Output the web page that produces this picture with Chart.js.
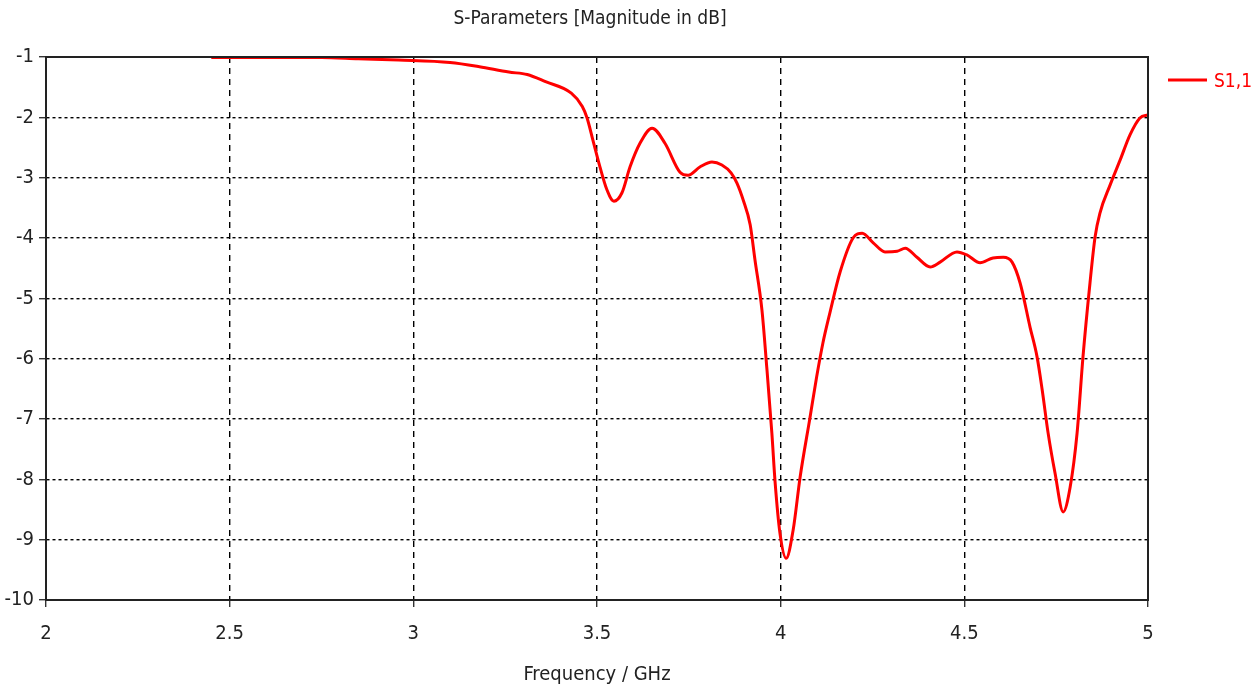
<!DOCTYPE html>
<html>
<head>
<meta charset="utf-8">
<script src="https://cdn.jsdelivr.net/npm/chart.js@4/dist/chart.umd.min.js"></script>
<style>
  html, body { margin: 0; padding: 0; background: #fff; }
  #wrap { width: 1260px; height: 693px; position: relative; }
</style>
</head>
<body>
<div id="wrap"><canvas id="sparChart"></canvas></div>
<script>
// S11 curve
const freqGHz = [2.45, 2.55, 2.65, 2.75, 2.85, 2.96, 3.10, 3.18, 3.26, 3.31, 3.36, 3.43, 3.46, 3.473,
  3.489, 3.508, 3.527, 3.546, 3.568, 3.59, 3.617, 3.65, 3.685, 3.726, 3.748, 3.781, 3.813, 3.84,
  3.865, 3.881, 3.898, 3.917, 3.93, 3.949, 3.962, 3.976, 3.985, 3.998, 4.015, 4.034, 4.053, 4.08,
  4.098, 4.115, 4.134, 4.162, 4.197, 4.222, 4.252, 4.284, 4.317, 4.339, 4.371, 4.407, 4.434, 4.48,
  4.507, 4.543, 4.578, 4.606, 4.63, 4.652, 4.679, 4.698, 4.712, 4.728, 4.747, 4.769, 4.788, 4.807,
  4.823, 4.842, 4.856, 4.869, 4.897, 4.924, 4.951, 4.978, 5.0];
const s11dB = [-1.01, -1.01, -1.01, -1.01, -1.03, -1.05, -1.09, -1.16, -1.25, -1.29, -1.41, -1.60, -1.82, -2.01,
  -2.38, -2.82, -3.20, -3.39, -3.25, -2.82, -2.43, -2.18, -2.43, -2.91, -2.96, -2.82, -2.74, -2.79,
  -2.92, -3.09, -3.37, -3.78, -4.36, -5.19, -6.13, -7.23, -8.06, -8.89, -9.31, -8.84, -7.96, -6.97,
  -6.30, -5.74, -5.24, -4.56, -4.00, -3.92, -4.08, -4.23, -4.22, -4.17, -4.32, -4.48, -4.40, -4.23,
  -4.28, -4.41, -4.33, -4.32, -4.40, -4.75, -5.48, -5.97, -6.52, -7.23, -7.90, -8.54, -8.13, -7.23,
  -5.97, -4.75, -3.98, -3.59, -3.12, -2.71, -2.29, -2.01, -1.96];

const xTicks = [2, 2.5, 3, 3.5, 4, 4.5, 5];
const yTicks = [-1, -2, -3, -4, -5, -6, -7, -8, -9, -10];
const seriesName = 'S1,1';
const chartTitle = 'S-Parameters [Magnitude in dB]';
const xTitle = 'Frequency / GHz';

const FONT = '"Liberation Sans Narrow", "DejaVu Sans Condensed", sans-serif';

const frame = {
  id: 'frame',
  afterDraw(chart) {
    const { ctx, chartArea: a } = chart;
    ctx.save();
    ctx.strokeStyle = '#222';
    ctx.lineWidth = 2;
    ctx.strokeRect(a.left, a.top, a.right - a.left, a.bottom - a.top);
    // title
    ctx.fillStyle = '#222';
    ctx.font = '19px ' + FONT;
    ctx.textAlign = 'center';
    ctx.textBaseline = 'middle';
    ctx.fillText(chartTitle, 590, 19);
    // legend
    ctx.strokeStyle = '#ff0000';
    ctx.lineWidth = 3;
    ctx.beginPath();
    ctx.moveTo(1168, 80);
    ctx.lineTo(1207, 80);
    ctx.stroke();
    ctx.fillStyle = '#ff0000';
    ctx.textAlign = 'left';
    ctx.fillText(seriesName, 1214, 82);
    ctx.restore();
  }
};

new Chart(document.getElementById('sparChart'), {
  type: 'line',
  data: {
    datasets: [{
      label: seriesName,
      data: freqGHz.map((f, i) => ({ x: f, y: s11dB[i] })),
      borderColor: '#ff0000',
      borderWidth: 3,
      pointRadius: 0,
      cubicInterpolationMode: 'monotone',
      fill: false,
    }],
  },
  options: {
    responsive: true,
    maintainAspectRatio: false,
    animation: false,
    layout: { padding: { top: 57, right: 112, left: 0, bottom: 0 } },
    plugins: {
      legend: { display: false },
      title: { display: false },
      tooltip: { enabled: false },
    },
    scales: {
      x: {
        type: 'linear',
        min: 2, max: 5,
        afterFit: (s) => { s.height = 93; },
        afterBuildTicks: (s) => { s.ticks = xTicks.map(v => ({ value: v })); },
        ticks: { color: '#222', font: { family: FONT, size: 20 }, padding: 15,
          callback: (v) => String(v) },
        grid: { color: '#000', lineWidth: 1.4, tickLength: 7,
          tickBorderDash: [], tickColor: '#333' },
        border: { display: true, color: '#333', width: 1.5, dash: [6, 5] },
        title: { display: true, text: xTitle, color: '#222',
          font: { family: FONT, size: 20 }, padding: { top: 8, bottom: 6 } },
      },
      y: {
        type: 'linear',
        min: -10, max: -1,
        afterFit: (s) => { s.width = 46; },
        afterBuildTicks: (s) => { s.ticks = yTicks.map(v => ({ value: v })); },
        ticks: { color: '#222', font: { family: FONT, size: 20 }, padding: 5,
          callback: (v) => String(v) },
        grid: { color: '#000', lineWidth: 1.4, tickLength: 7,
          tickBorderDash: [], tickColor: '#333' },
        border: { display: true, color: '#333', width: 1.5, dash: [3, 3] },
      },
    },
  },
  plugins: [frame],
});
</script>
</body>
</html>
